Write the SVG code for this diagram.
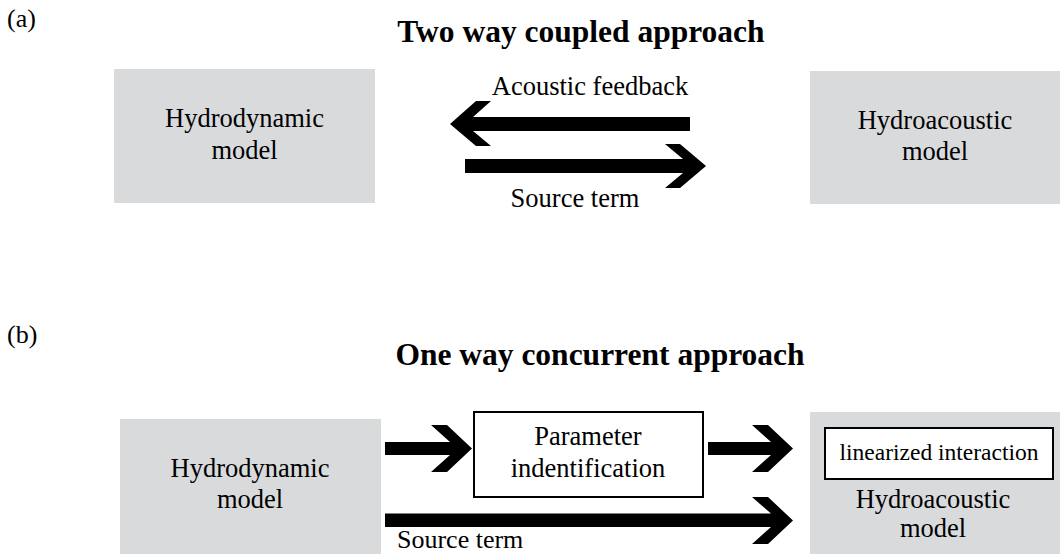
<svg xmlns="http://www.w3.org/2000/svg" width="1060" height="554" viewBox="0 0 1060 554">
<style>
text{font-family:"Liberation Serif","Times New Roman",serif;fill:#000;}
.t{font-size:26.5px;text-anchor:middle;}
.lab{font-size:26px;}
.title{font-size:31.5px;font-weight:bold;text-anchor:middle;}
.small{font-size:23.5px;text-anchor:middle;}
.box{fill:#d9dadc;stroke:none;}
.wbox{fill:#fff;stroke:#000;stroke-width:2;}
.arrow{fill:#000;stroke:none;}
</style>
<rect width="1060" height="554" fill="#fff"/>
<g id="labels">
<text class="lab" x="7" y="27">(a)</text>
<text class="title" x="581" y="42">Two way coupled approach</text>
<text class="lab" x="7" y="343">(b)</text>
<text class="title" x="600" y="365">One way concurrent approach</text>
</g>
<g id="a-hydrodynamic">
<rect class="box" x="114" y="69" width="261" height="134"/>
<text class="t" x="244.5" y="127">Hydrodynamic</text>
<text class="t" x="244.5" y="159">model</text>
</g>
<g id="a-hydroacoustic">
<rect class="box" x="810" y="71" width="250" height="133"/>
<text class="t" x="935" y="129">Hydroacoustic</text>
<text class="t" x="935" y="160">model</text>
</g>
<g id="b-hydrodynamic">
<rect class="box" x="120" y="419" width="261" height="135"/>
<text class="t" x="250" y="477">Hydrodynamic</text>
<text class="t" x="250" y="508">model</text>
</g>
<g id="b-parameter">
<rect class="wbox" x="474" y="412" width="229" height="85"/>
<text class="t" x="588" y="445">Parameter</text>
<text class="t" x="588" y="477">indentification</text>
</g>
<g id="b-hydroacoustic">
<rect class="box" x="810" y="412" width="250" height="142"/>
<rect class="wbox" x="825" y="428" width="228" height="51"/>
<text class="small" x="939" y="460">linearized interaction</text>
<text class="t" x="933" y="508">Hydroacoustic</text>
<text class="t" x="933" y="537">model</text>
</g>
<g id="connectors">
<path class="arrow" d="M690,117 L473,117 L491,101 L476,101 L450,124 L476,146 L491,146 L473,131 L690,131 Z"/>
<text class="t" x="590" y="95">Acoustic feedback</text>
<path class="arrow" d="M465,159 L683,159 L665,144 L680,144 L706,166 L680,188 L665,188 L683,173 L465,173 Z"/>
<text class="t" x="575" y="207">Source term</text>
<path class="arrow" d="M385,442 L450,442 L431,425 L447,425 L472,448.5 L447,472 L431,472 L450,455 L385,455 Z"/>
<path class="arrow" d="M708,442 L771,442 L752,425 L768,425 L793,448.5 L768,472 L752,472 L771,455 L708,455 Z"/>
<path class="arrow" d="M385,513.5 L771,513.5 L752,497 L768,497 L793,520.5 L768,544 L752,544 L771,527 L385,527 Z"/>
<text class="lab" x="397" y="548">Source term</text>
</g>
</svg>
